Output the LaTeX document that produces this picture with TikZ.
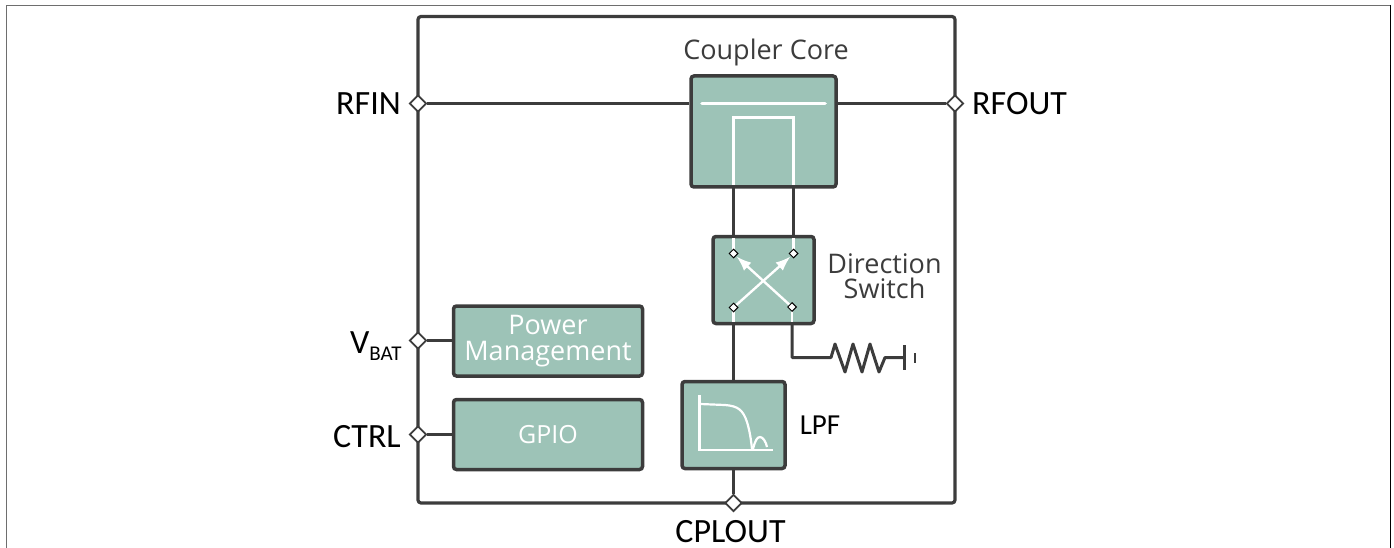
\documentclass[tikz,border=0pt]{standalone}
\usepackage{fontspec}
\setmainfont{Carlito}
\newfontfamily\opens{Open Sans}
\definecolor{dk}{HTML}{3C3C3C}
\definecolor{tealf}{HTML}{9DC3B7}
\definecolor{fr}{HTML}{6E6E6E}
\usetikzlibrary{arrows.meta,calc,shapes.geometric}
\tikzset{
  wire/.style={draw=dk,line width=3pt},
  blockbox/.style={draw=dk,fill=tealf,line width=3.5pt,rounded corners=3pt,inner sep=0pt,align=center},
  port/.style={draw=dk,fill=white,line width=1.8pt,diamond,minimum width=17pt,minimum height=17pt,inner sep=0pt},
  sw/.style={draw=black,fill=white,line width=1pt,diamond,minimum width=9pt,minimum height=9pt,inner sep=0pt},
  inner/.style={draw=white,line width=2.4pt},
  pinlabel/.style={font=\fontsize{34}{34}\selectfont,text=black,inner sep=0pt},
  whitelabel/.style={font=\opens\fontsize{27}{25}\selectfont,text=white},
  greylabel/.style={font=\opens\fontsize{27}{25}\selectfont,text=dk,align=center,inner sep=0pt},
}
\begin{document}
\begin{tikzpicture}[x=1pt,y=-1pt]
\useasboundingbox (0,0) rectangle (1394,548);
\draw[fr,line width=1.8pt] (6.5,548) -- (6.5,5.5) -- (1390,5.5);
\draw[black,line width=1pt] (1390.5,5) -- (1390.5,548);
\draw[wire,line width=3.2pt,rounded corners=3pt] (418,16.5) rectangle (955,503);
% blocks
\node[blockbox,minimum width=145pt,minimum height=111pt] (core) at (763.5,131.5) {};
\node[blockbox,minimum width=101pt,minimum height=87pt] (dir) at (763.5,280) {};
\node[blockbox,minimum width=103pt,minimum height=87pt] (lpf) at (733.5,425) {};
\node[blockbox,minimum width=189pt,minimum height=70pt,whitelabel] (pm) at (548,341) {\raisebox{-3pt}{\def\arraystretch{0.9}\begin{tabular}{@{}c@{}}Power\\Management\end{tabular}}};
\node[blockbox,minimum width=189pt,minimum height=70pt,whitelabel,font=\opens\fontsize{25}{25}\selectfont] (gpio) at (548,434.5) {GPIO};
% ports
\node[port] (rfin) at (418,103.5) {};
\node[port] (rfout) at (955,103.5) {};
\node[port] (vbat) at (418,340.5) {};
\node[port] (ctrl) at (418,434.5) {};
\node[port] (cplout) at (733.5,503) {};
% port wires
\draw[wire] (rfin) -- (core.west |- rfin);
\draw[wire] (core.east |- rfout) -- (rfout);
\draw[wire] (vbat) -- (pm.west |- vbat);
\draw[wire] (ctrl) -- (gpio.west |- ctrl);
\draw[wire] (lpf.south) -- (cplout);
\draw[wire] (733.5,187) -- (733.5,236.5);
\draw[wire] (793.5,187) -- (793.5,236.5);
\draw[wire] (733.5,323.5) -- (733.5,381.5);
% resistor
\draw[wire,line join=round] (792,323.5) -- (792,357.5) -- (831,357.5) -- (835,344) -- (845,372) -- (853,344) -- (862,372) -- (870,344) -- (879,372) -- (885,357.5) -- (904,357.5);
\draw[wire] (904,345) -- (904,370);
\draw[wire,line width=2.4pt] (915,353) -- (915,363);
% coupler inner
\draw[inner,line width=3.6pt,line cap=round] (702,103.5) -- (825,103.5);
\draw[inner] (733.5,185) -- (733.5,117.5) -- (793.5,117.5) -- (793.5,185);
% switch inner
\draw[inner] (733.5,238) -- (733.5,254);
\draw[inner] (793.5,238) -- (793.5,254);
\draw[inner] (733.5,308) -- (733.5,322);
\draw[inner] (792,308) -- (792,322);
\coordinate (p1) at (733.5,307.5);
\coordinate (p2) at (793.5,253.5);
\coordinate (p3) at (792,307);
\coordinate (p4) at (733.5,253.5);
\draw[inner,-{Latex[length=15pt,width=11pt]}] (p1) -- ($(p2)+(-3,3)$);
\draw[inner,-{Latex[length=15pt,width=11pt]}] (p3) -- ($(p4)+(3,3)$);
\node[sw] (s1) at (p4) {};
\node[sw] (s2) at (p2) {};
\node[sw] (s3) at (p1) {};
\node[sw] (s4) at (p3) {};
% LPF glyph
\draw[inner] (699.5,395) -- (699.5,450);
\draw[inner] (698,450) -- (773,450);
\draw[inner,line width=2.2pt] (700,404) -- (725,405) .. controls (738,406) and (743,410) .. (747,422) .. controls (750,432) and (751,440) .. (752,449);
\draw[inner,line width=2.2pt] (753,449) .. controls (755,441) and (757,437) .. (760,437) .. controls (763,437) and (766,442) .. (767,447);
% labels
\node[pinlabel,anchor=east] (l1) at (401,104) {RFIN};
\node[pinlabel,anchor=west] (l2) at (972,104) {RFOUT};
\node[pinlabel,anchor=east] (l3) at (401,436.5) {CTRL};
\node[pinlabel,anchor=base] (l4) at (730.5,542) {CPLOUT};
\node[pinlabel,anchor=base west] (l5) at (350,353) {V\raisebox{-7pt}{\fontsize{21}{21}\selectfont BAT}};
\node[greylabel,anchor=base] (l6) at (766,60) {Coupler Core};
\node[greylabel,anchor=base] (l7) at (884.5,298) {Direction\\Switch};
\node[font=\fontsize{29}{29}\selectfont,text=black,inner sep=0pt] (l8) at (820,425) {LPF};
\end{tikzpicture}
\end{document}
